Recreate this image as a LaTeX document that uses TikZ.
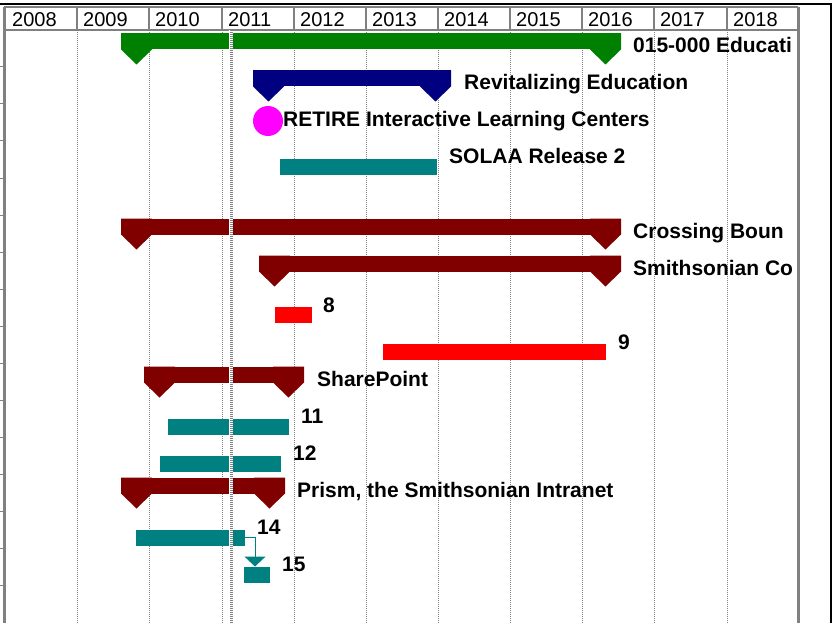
\documentclass[tikz,border=0pt]{standalone}
\usepackage{fontspec}
\setmainfont{Liberation Sans}
\usetikzlibrary{arrows.meta}
\definecolor{ggreen}{RGB}{0,128,0}
\definecolor{gnavy}{RGB}{0,0,128}
\definecolor{gmag}{RGB}{255,0,255}
\definecolor{gteal}{RGB}{0,128,128}
\definecolor{gdred}{RGB}{128,0,0}
\definecolor{gred}{RGB}{255,0,0}
\definecolor{ggray}{RGB}{128,128,128}
\newcommand\msmark[3]{\fill[#3] (#1,#2) -- ++(31,0) -- ++(0,16) -- ++(-15.5,15) -- ++(-15.5,-15) -- cycle;}
\begin{document}
\begin{tikzpicture}[x=1pt,y=-1pt,
  bar/.style={draw=none, inner sep=0pt, outer sep=0pt, anchor=north west, minimum height=16pt},
  lbl/.style={font=\fontsize{21}{21}\selectfont\bfseries, anchor=base west, inner sep=0pt},
  yr/.style={font=\fontsize{20}{20}\selectfont, anchor=base west, inner sep=0pt},
  gridl/.style={ggray, line width=0.8pt, dash pattern=on 1pt off 1pt},
  hsep/.style={ggray, line width=2pt},
  link/.style={gteal, line width=1pt, -{Triangle[width=21pt,length=10pt]}}]
\useasboundingbox (0,0) rectangle (835,623);
\fill[white] (0,0) rectangle (835,623);
% grid lines
\foreach \x in {77,149,222,294,366,438,510,582,654,727}
  \draw[gridl] (\x,30) -- (\x,623);
% header
\draw[hsep] (4,7) -- (798,7);
\draw[hsep] (4,30) -- (798,30);
\foreach \x in {4.5,77,149,222,294,366,438,510,582,654,727,798}
  \draw[hsep] (\x,7) -- (\x,30);
\draw[ggray, line width=2.5pt] (4.5,7) -- (4.5,623);
\draw[ggray, line width=2.5pt] (798.5,7) -- (798.5,623);
\foreach \y in {67,104,141,178,215,252,289,326,363,400,437,474,511,548,585}
  \draw[ggray, line width=1pt] (0,\y) -- (4,\y);
\foreach \x/\t in {12/2008,83/2009,155/2010,228/2011,300/2012,372/2013,444/2014,516/2015,588/2016,660/2017,733/2018}
  \node[yr] (y\t) at (\x,27) {\t};
% row 1
\node[bar, fill=ggreen, minimum width=500pt] (b1) at (121,33.5) {};
\msmark{121}{33.5}{ggreen}\msmark{590}{33.5}{ggreen}
\node[lbl] (l1) at (633,53) {015-000 Educati};
% row 2
\node[bar, fill=gnavy, minimum width=198pt] (b2) at (253,70.5) {};
\msmark{253}{70.5}{gnavy}\msmark{420}{70.5}{gnavy}
\node[lbl] (l2) at (464,90) {Revitalizing Education};
% row 3
\node[circle, fill=gmag, minimum size=30pt, inner sep=0pt] (b3) at (268,121) {};
\node[lbl] (l3) at (283,127) {RETIRE Interactive Learning Centers};
% row 4
\node[bar, fill=gteal, minimum width=157pt] (b4) at (280,159) {};
\node[lbl] (l4) at (449,164) {SOLAA Release 2};
% row 6
\node[bar, fill=gdred, minimum width=500pt] (b6) at (121,218.5) {};
\msmark{121}{218.5}{gdred}\msmark{590}{218.5}{gdred}
\node[lbl] (l6) at (633,238) {Crossing Boun};
% row 7
\node[bar, fill=gdred, minimum width=362pt] (b7) at (259,255.5) {};
\msmark{259}{255.5}{gdred}\msmark{590}{255.5}{gdred}
\node[lbl] (l7) at (633,275) {Smithsonian Co};
% row 8
\node[bar, fill=gred, minimum width=37pt] (b8) at (275,307) {};
\node[lbl] (l8) at (323,312) {8};
% row 9
\node[bar, fill=gred, minimum width=223pt] (b9) at (383,344) {};
\node[lbl] (l9) at (618,349) {9};
% row 10
\node[bar, fill=gdred, minimum width=160pt] (b10) at (144,366.5) {};
\msmark{144}{366.5}{gdred}\msmark{273}{366.5}{gdred}
\node[lbl] (l10) at (317,386) {SharePoint};
% row 11
\node[bar, fill=gteal, minimum width=121pt] (b11) at (168,418.5) {};
\node[lbl] (l11) at (301,423) {11};
% row 12
\node[bar, fill=gteal, minimum width=121pt] (b12) at (160,455.5) {};
\node[lbl] (l12) at (293,460) {12};
% row 13
\node[bar, fill=gdred, minimum width=164pt] (b13) at (121,477.5) {};
\msmark{121}{477.5}{gdred}\msmark{254}{477.5}{gdred}
\node[lbl] (l13) at (297,497) {Prism, the Smithsonian Intranet};
% row 14
\node[bar, fill=gteal, minimum width=109pt] (b14) at (136,529.5) {};
\node[lbl] (l14) at (257,534) {14};
% row 15
\node[bar, fill=gteal, minimum width=26pt] (b15) at (244,566.5) {};
\node[lbl] (l15) at (282,571) {15};
\draw[link] (b14.east) -| ([xshift=-2pt]b15.north);
% today line
\draw[white, line width=4pt] (231,30) -- (231,623);
\draw[ggray, line width=3pt, dash pattern=on 1pt off 1pt] (231,30) -- (231,623);
% outer frame
\draw[black, line width=2.5pt] (0,4) -- (831,4) -- (831,623);
\end{tikzpicture}
\end{document}
